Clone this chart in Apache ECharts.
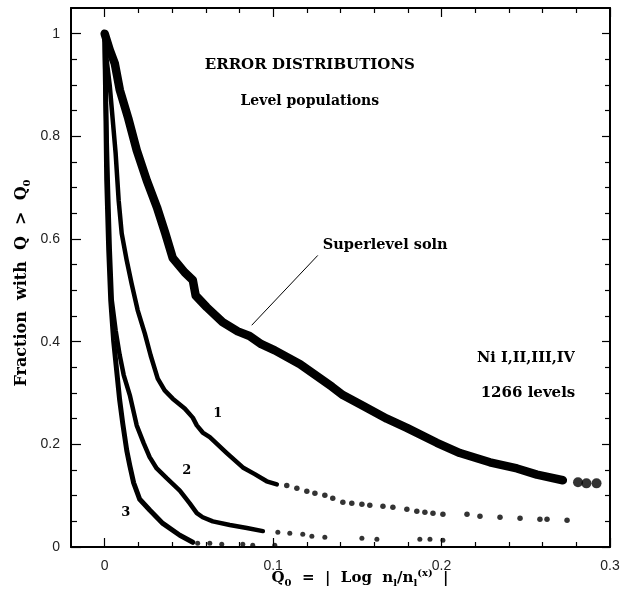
<!DOCTYPE html>
<html><head><meta charset="utf-8">
<script src="https://cdn.jsdelivr.net/npm/echarts@6/dist/echarts.min.js"></script>
<style>html,body{margin:0;padding:0;background:#fff}#c{width:627px;height:596px}</style>
</head><body><div id="c"></div>
<script>
// ---- tick values ----
const xMajor = [0, 0.1, 0.2, 0.3];
const xMinor = [0.02,0.04,0.06,0.08,0.12,0.14,0.16,0.18,0.22,0.24,0.26,0.28];
const yMajor = [0, 0.2, 0.4, 0.6, 0.8, 1];
const yMinor = [0.05,0.1,0.15,0.25,0.3,0.35,0.45,0.5,0.55,0.65,0.7,0.75,0.85,0.9,0.95];

// ---- Superlevel solution curve ----
const superlevel = [[0,1.0],[0.003,0.968],[0.006,0.942],[0.009,0.890],[0.014,0.835],[0.019,0.773],[0.025,0.714],[0.031,0.662],[0.036,0.611],[0.0404,0.563],[0.0475,0.535],[0.0523,0.520],[0.054,0.490],[0.0606,0.467],[0.070,0.438],[0.079,0.420],[0.086,0.411],[0.093,0.395],[0.101,0.383],[0.116,0.356],[0.135,0.312],[0.1414,0.296],[0.1533,0.275],[0.1675,0.25],[0.1794,0.232],[0.1972,0.203],[0.2109,0.183],[0.2287,0.165],[0.2448,0.153],[0.2566,0.141],[0.272,0.130]];
const superlevelTail = [[0.281,0.126],[0.286,0.124],[0.292,0.124]];

// ---- Curve 1 ----
const curve1 = [[0,1.0],[0.0012,0.948],[0.003,0.899],[0.0048,0.831],[0.0065,0.767],[0.0083,0.675],[0.0101,0.611],[0.0131,0.558],[0.016,0.513],[0.0196,0.461],[0.0238,0.416],[0.0273,0.373],[0.0315,0.328],[0.0356,0.305],[0.0404,0.289],[0.0475,0.270],[0.0523,0.252],[0.0547,0.237],[0.0582,0.223],[0.0624,0.214],[0.0725,0.183],[0.082,0.155],[0.0891,0.142],[0.0962,0.128],[0.1022,0.122]];
const curve1TailQ = [0.1081,0.1141,0.12,0.1248,0.1307,0.1354,0.1414,0.1467,0.1527,0.1574,0.1652,0.1711,0.1794,0.1853,0.1901,0.1949,0.2008,0.2151,0.2228,0.2347,0.2466,0.2584,0.2626,0.2745];
const curve1TailF = [0.12,0.1143,0.1085,0.1046,0.1007,0.0949,0.0871,0.0851,0.0832,0.0812,0.0793,0.0773,0.0734,0.0695,0.0676,0.0656,0.0637,0.0637,0.0598,0.0578,0.0559,0.054,0.054,0.052];

// ---- Curve 2 ----
const curve2 = [[0,1.0],[0.0006,0.871],[0.0018,0.715],[0.003,0.579],[0.0042,0.481],[0.0065,0.422],[0.0089,0.374],[0.0113,0.335],[0.0149,0.296],[0.019,0.237],[0.0232,0.202],[0.0267,0.175],[0.0309,0.153],[0.0368,0.134],[0.0446,0.110],[0.0505,0.085],[0.0547,0.066],[0.0582,0.058],[0.0642,0.050],[0.0743,0.043],[0.0844,0.037],[0.0939,0.031]];
const curve2Tail = [[0.1028,0.0286],[0.1099,0.0267],[0.1176,0.0247],[0.123,0.0208],[0.1307,0.0189],[0.1527,0.0169],[0.1616,0.015],[0.1871,0.015],[0.1931,0.015],[0.2008,0.013]];

// ---- Curve 3 ----
const curve3 = [[0,1.0],[0.0006,0.871],[0.0012,0.715],[0.0024,0.578],[0.0036,0.48],[0.0053,0.402],[0.0071,0.344],[0.0089,0.286],[0.0107,0.241],[0.0131,0.188],[0.0149,0.159],[0.0172,0.125],[0.0208,0.093],[0.0267,0.072],[0.0345,0.046],[0.0446,0.023],[0.0523,0.0092]];
const curve3Tail = [[0.0552,0.0072],[0.0624,0.0072],[0.0695,0.0053],[0.082,0.0053],[0.0879,0.0033],[0.101,0.0033]];

// ---- annotation pointer (data coords) ----
const pointer = [[0.0873,0.432],[0.1265,0.568]];

const SERIF = '"DejaVu Serif", "Liberation Serif", serif';
const SANS = '"Liberation Sans", Arial, sans-serif';

function xa(pos, ticks, len, labels, line) {
  return {type:'value', position:pos, min:-0.02, max:0.3,
    axisLine:{show:line, onZero:false, lineStyle:{color:'#000', width:2}},
    axisTick:{show:true, inside:true, length:len, customValues:ticks, lineStyle:{color:'#000', width:1.2}},
    axisLabel: labels ? {show:true, customValues:xMajor, formatter:v=>String(v), fontFamily:SANS, fontSize:14, color:'#222', margin:12} : {show:false},
    splitLine:{show:false}};
}
function ya(pos, ticks, len, labels, line) {
  return {type:'value', position:pos, min:0, max:1.05,
    axisLine:{show:line, onZero:false, lineStyle:{color:'#000', width:2}},
    axisTick:{show:true, inside:true, length:len, customValues:ticks, lineStyle:{color:'#000', width:1.2}},
    axisLabel: labels ? {show:true, customValues:yMajor, formatter:v=>String(v), fontFamily:SANS, fontSize:14, color:'#222', margin:11} : {show:false},
    splitLine:{show:false}};
}

const chart = echarts.init(document.getElementById('c'));
const lineS = (data, w) => ({type:'line', data, showSymbol:false, symbol:'none', smooth:false, animation:false,
  lineStyle:{color:'#000', width:w, cap:'round', join:'round'}, z:3});
const dotS = (data, s) => ({type:'scatter', data, symbol:'circle', symbolSize:s, itemStyle:{color:'#000'}, animation:false, z:3});

chart.setOption({
  animation:false,
  grid:{left:71, right:17, top:8, bottom:49},
  xAxis:[xa('bottom', xMajor, 9, true, true), xa('bottom', xMinor, 5, false, false), xa('top', xMajor, 9, false, true), xa('top', xMinor, 5, false, false)],
  yAxis:[ya('left', yMajor, 10, true, true), ya('left', yMinor, 6, false, false), ya('right', yMajor, 8, false, true), ya('right', yMinor, 5, false, false)],
  series:[
    lineS(superlevel, 8.5),
    dotS(superlevelTail, 10),
    lineS(curve1, 4.5),
    dotS(curve1TailQ.map((q,i)=>[q, curve1TailF[i]]), 5.5),
    lineS(curve2, 4.5),
    dotS(curve2Tail, 5),
    lineS(curve3, 5),
    dotS(curve3Tail, 5),
    {type:'line', data:pointer, symbol:'none', lineStyle:{color:'#000', width:1}, animation:false, z:2}
  ]
});

const P = (q,f) => chart.convertToPixel({seriesIndex:0}, [q,f]);
const notes = [
  {t:'ERROR DISTRIBUTIONS', at:[0.1218,0.938], size:15, align:'center'},
  {t:'Level populations', at:[0.1218,0.868], size:14, align:'center'},
  {t:'Superlevel soln', at:[0.1295,0.588], size:14.5, align:'left'},
  {t:'Ni I,II,III,IV', at:[0.2501,0.368], size:14.5, align:'center'},
  {t:'1266 levels', at:[0.2513,0.299], size:15, align:'center'},
  {t:'1', at:[0.0671,0.2605], size:13, align:'center'},
  {t:'2', at:[0.0487,0.1494], size:13, align:'center'},
  {t:'3', at:[0.0125,0.0676], size:13, align:'center'}
];
const g = notes.map(n => {
  const p = P(n.at[0], n.at[1]);
  return {type:'text', x:p[0], y:p[1], z:10, style:{text:n.t, fill:'#000', font:'bold '+n.size+'px '+SERIF, textAlign:n.align, textVerticalAlign:'middle'}};
});
const mk = (fs) => ({fontFamily:SERIF, fontWeight:'bold', fontSize:fs, fill:'#000', lineHeight:20, verticalAlign:'middle'});
const base = mk(15);
const baseY = mk(16);
const sub = {fontFamily:SERIF, fontWeight:'bold', fontSize:10, fill:'#000', lineHeight:20, verticalAlign:'bottom'};
const sup = {fontFamily:SERIF, fontWeight:'bold', fontSize:10, fill:'#000', lineHeight:20, verticalAlign:'top'};
g.push({type:'text', x:360, y:578, z:10, style:{text:'{b|Q}{s|0}{b|  =  |  Log  n}{s|l}{b|/n}{s|l}{p|(x)}{b|  |}', textAlign:'center', textVerticalAlign:'middle', rich:{b:base, s:sub, p:sup}}});
g.push({type:'text', x:22, y:283, rotation:Math.PI/2, z:10, style:{text:'{b|Fraction  with  Q  >  Q}{s|0}', textAlign:'center', textVerticalAlign:'middle', rich:{b:baseY, s:sub}}});
chart.setOption({graphic:g});
</script></body></html>
